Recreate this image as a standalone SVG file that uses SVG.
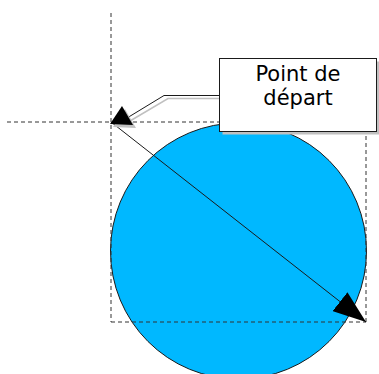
<svg xmlns="http://www.w3.org/2000/svg" width="379" height="374" viewBox="0 0 379 374">
  <style>
    .guide { fill: none; stroke: #333; stroke-width: 1; stroke-dasharray: 4 3; }
    .line { fill: none; stroke: #1a1a1a; stroke-width: 1; }
    .shadow { fill: #c0c0c0; stroke: none; }
    .shadow-line { fill: none; stroke: #c0c0c0; stroke-width: 1.5; }
    .label { font-family: "DejaVu Sans", Verdana, sans-serif; font-size: 21px; fill: #000; text-anchor: middle; }
  </style>
  <defs>
    <marker id="arrowEnd" viewBox="0 0 33 24" refX="33" refY="12" markerWidth="33" markerHeight="24" markerUnits="userSpaceOnUse" orient="auto">
      <path d="M0,0 L33,12 L0,24 Z" fill="#000"/>
    </marker>
  </defs>

  <rect width="379" height="374" fill="#fff"/>

  <!-- circle shape -->
  <g id="circle">
    <circle cx="238.5" cy="251" r="128" fill="#00b8ff" stroke="#1a1a1a" stroke-width="1"/>
  </g>

  <!-- construction guides and bounding box -->
  <g id="guides">
    <line class="guide" x1="111" y1="13" x2="111" y2="322"/>
    <line class="guide" x1="7" y1="122" x2="366" y2="122"/>
    <line class="guide" x1="366" y1="122" x2="366" y2="322"/>
    <line class="guide" x1="111" y1="322" x2="366" y2="322"/>
  </g>

  <g id="connectors">
    <!-- diagonal from start point to opposite corner -->
    <line class="line" x1="111" y1="122" x2="366" y2="322" marker-end="url(#arrowEnd)"/>
    <!-- callout leader with its shadow -->
    <polyline class="shadow-line" points="130,121 168,98.5 222,98.5"/>
    <polyline class="line" points="127,118 164,95.5 219,95.5"/>
    <polygon class="shadow" points="113,127 125,109 136,128"/>
    <polygon points="110,124 122,106 133,125" fill="#000"/>
  </g>

  <!-- callout box -->
  <g id="callout">
    <rect class="shadow" x="222.5" y="61.5" width="157" height="73"/>
    <rect x="219.5" y="58.5" width="157" height="73" fill="#fff" stroke="#1a1a1a" stroke-width="1"/>
    <text class="label" x="298" y="81">Point de</text>
    <text class="label" x="298" y="105">départ</text>
  </g>
</svg>
